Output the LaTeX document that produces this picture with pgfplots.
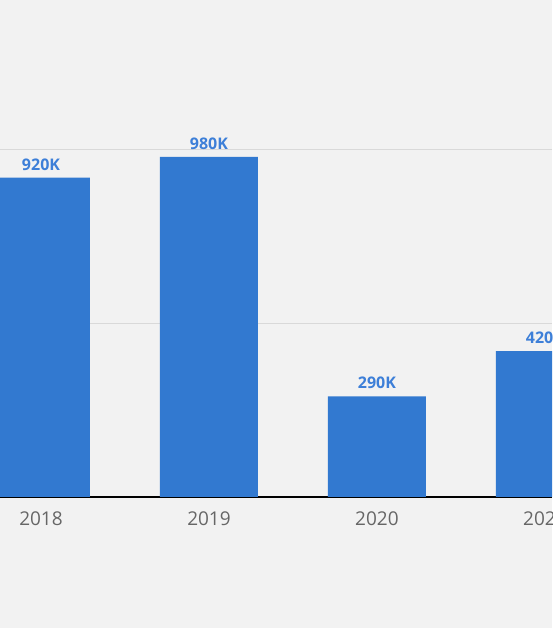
\documentclass[border=0pt]{standalone}
\usepackage{pgfplots}
\pgfplotsset{compat=1.18}
\usepackage{fontspec}
\setmainfont{Open Sans}
\definecolor{bg}{HTML}{F2F2F2}
\definecolor{barblue}{HTML}{3279D0}
\definecolor{lblblue}{HTML}{3D7FD8}
\definecolor{tickgray}{HTML}{666666}
\definecolor{gridgray}{HTML}{D9D9D9}

\begin{document}
\begin{tikzpicture}[x=1pt,y=1pt]
\useasboundingbox (0,-131) rectangle (552,497);
\clip (0,-131) rectangle (552,497);
\fill[bg] (0,-131) rectangle (552,497);
\begin{axis}[
  scale only axis,
  width=552pt, height=497pt,
  xmin=2017.756, xmax=2021.042,
  ymin=0, ymax=1432,
  ybar, bar width=98pt, bar shift=0pt,
  axis lines*=left,
  x axis line style={black, line width=1.5pt},
  y axis line style={draw=none},
  ytick={500,1000}, yticklabels={},
  ymajorgrids,
  grid style={gridgray, line width=1pt},
  major tick length=0pt,
  xtick={2018,2019,2020,2021},
  xticklabels={2018,2019,2020,2021},
  xticklabel style={text=tickgray, font=\fontsize{19}{23}\selectfont, yshift=-11pt},
  point meta=explicit symbolic,
  nodes near coords={\pgfplotspointmeta},
  every node near coord/.append style={text=lblblue, font=\fontsize{16}{19}\selectfont\bfseries, yshift=4pt},
]
\addplot[fill=barblue, draw=none] coordinates {
  (2018,920) [920K]
  (2019,980) [980K]
  (2020,290) [290K]
  (2021,420) [420K]
};
\end{axis}
\end{tikzpicture}
\end{document}
